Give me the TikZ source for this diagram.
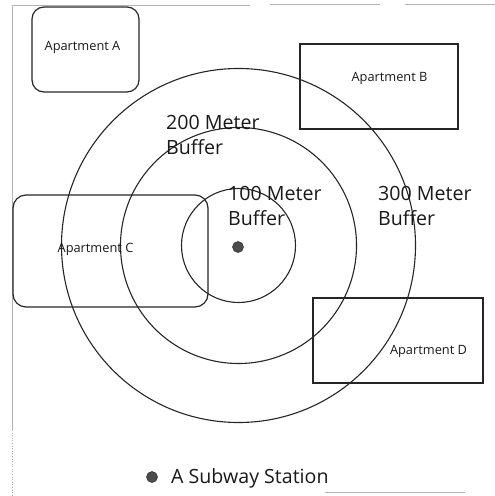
\documentclass[tikz,border=0pt]{standalone}
\usepackage{fontspec}
\setmainfont{Open Sans}
\begin{document}
\begin{tikzpicture}[x=1bp,y=-1bp,
  ring/.style={circle,draw=black!85,line width=1.1bp,inner sep=0pt,outer sep=0pt},
  aptbox/.style={draw=black!85,line width=1.2bp,inner sep=0pt,outer sep=0pt},
  aptlabel/.style={font=\fontsize{12.8bp}{15bp}\selectfont,inner sep=0pt,text=black!90},
  buflabel/.style={font=\fontsize{19.6bp}{25bp}\selectfont,align=left,anchor=west,inner sep=0pt,text=black!90},
  frameline/.style={draw=black!30,line width=0.6bp},
  stationdot/.style={circle,fill=black!70,draw=black!85,line width=0.5bp,minimum size=11bp,inner sep=0pt}]
\useasboundingbox (0,0) rectangle (495,496);
% faint page frame
\coordinate (f1) at (12,5); \coordinate (f2) at (250,5);
\coordinate (f3) at (270,4); \coordinate (f4) at (380,4);
\coordinate (f5) at (405,4); \coordinate (f6) at (495,4);
\coordinate (f7) at (12,430); \coordinate (f8) at (12,496);
\coordinate (f9) at (325,492); \coordinate (f10) at (465,492);
\draw[frameline] (f1) -- (f2) (f3) -- (f4) (f5) -- (f6) (f1) -- (f7) (f9) -- (f10);
\draw[frameline,dotted] (f7) -- (f8);
% buffers
\coordinate (ctr) at (238.5,245.5);
\node[ring,minimum size=114bp] (b100) at (ctr) {};
\node[ring,minimum size=236bp] (b200) at (ctr) {};
\node[ring,minimum size=354bp] (b300) at (ctr) {};
\node[stationdot] (station) at (238,247) {};
% apartments
\node[aptbox,rounded corners=12bp,minimum width=107bp,minimum height=85bp] (aptA) at (85.5,49.5) {};
\node[aptlabel] (aptAt) at (82.5,47) {Apartment A};
\node[aptbox,minimum width=158bp,minimum height=85bp] (aptB) at (379,86.5) {};
\node[aptlabel] (aptBt) at (389.5,78) {Apartment B};
\node[aptbox,rounded corners=13bp,minimum width=195bp,minimum height=112bp] (aptC) at (110.5,251) {};
\node[aptlabel] (aptCt) at (95.5,249) {Apartment C};
\node[aptbox,minimum width=170bp,minimum height=85bp] (aptD) at (398,340.5) {};
\node[aptlabel] (aptDt) at (428.5,351) {Apartment D};
% buffer labels
\node[buflabel] (l200) at (166,134.5) {200 Meter\\Buffer};
\node[buflabel] (l100) at (228,205.5) {100 Meter\\Buffer};
\node[buflabel] (l300) at (378,205.5) {300 Meter\\Buffer};
% legend
\node[stationdot] (legdot) at (152,477) {};
\node[buflabel] (legtext) at (171,478) {A Subway Station};
\end{tikzpicture}
\end{document}
